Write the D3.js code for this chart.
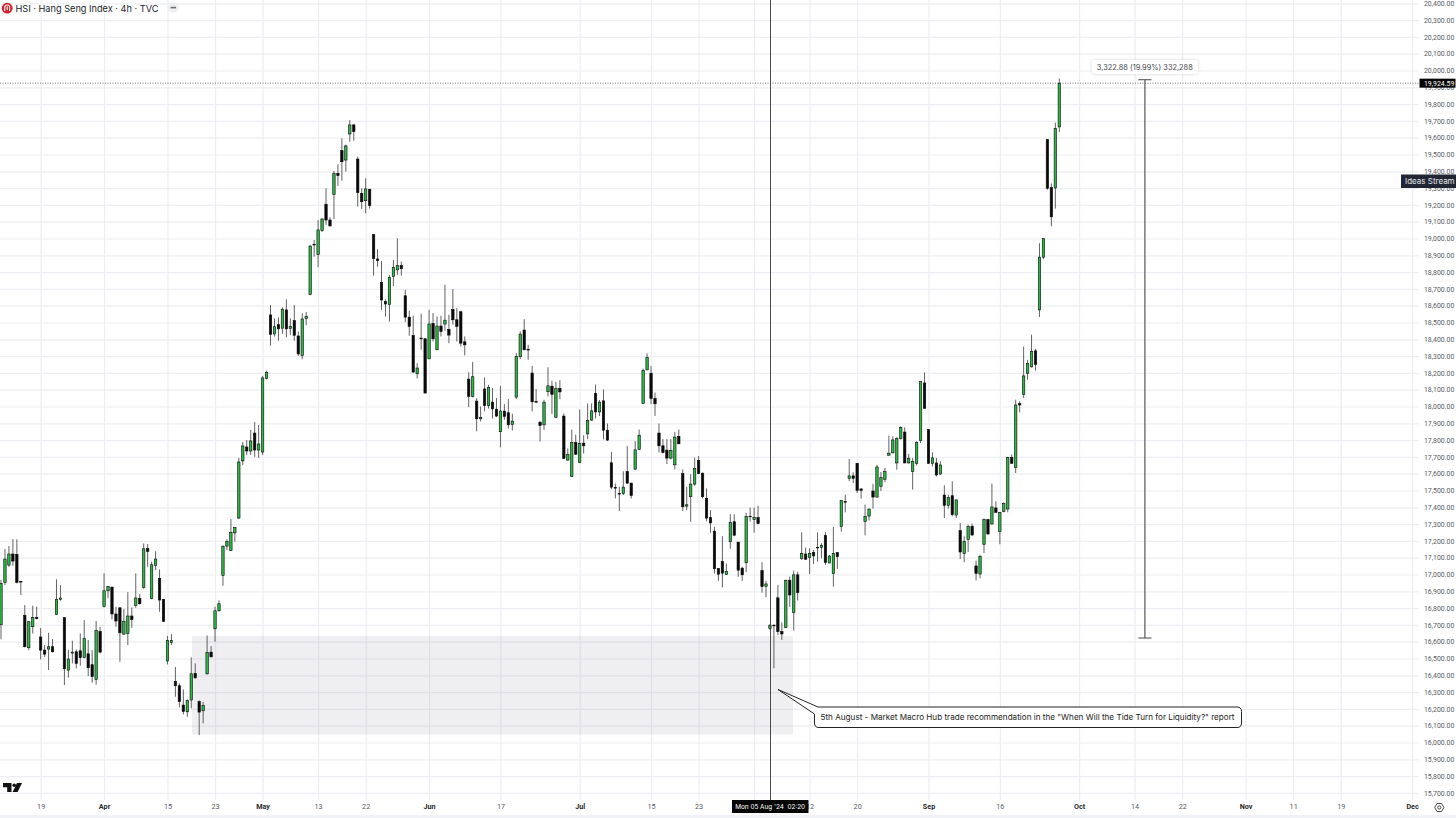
<!DOCTYPE html>
<html>
<head>
<meta charset="utf-8">
<script src="https://cdn.jsdelivr.net/npm/d3@7"></script>
<style>
  html, body { margin: 0; padding: 0; background: #fff; overflow: hidden; }
  svg { display: block; font-family: Inter, "Noto Sans", sans-serif; }
</style>
</head>
<body>
<svg id="chart" width="1456" height="818"></svg>
<script>
// 4h candles, oldest first
const opens = [
  16701,16953,17056,17122,17120,16959,16757,16564,16689,16745,
  16628,16550,16556,16570,16761,16852,16743,16431,16532,16540,
  16546,16505,16528,16463,16376,16661,16810,16903,16925,16765,
  16802,16645,16649,16753,16816,16858,16923,17155,16856,17054,
  16977,16852,16485,16596,16364,16338,16223,16183,16253,16411,
  16243,16189,16409,16538,16677,16784,16995,17169,17143,17248,
  17336,17676,17759,17735,17842,17741,17729,18168,18545,18432,
  18487,18466,18575,18464,18511,18420,18303,18523,18668,18965,
  18904,19047,19204,19110,19263,19388,19523,19467,19622,19676,
  19473,19269,19225,19293,19023,18878,18739,18624,18606,18773,
  18813,18840,18659,18532,18423,18195,18407,18403,18284,18494,
  18338,18479,18491,18459,18578,18516,18564,18385,18163,18060,
  18032,17927,18104,18006,18026,17984,17850,17973,17963,17893,
  18056,18296,18455,18340,18199,18030,17907,17891,18088,18121,
  17935,18107,17943,17681,17583,17786,17667,17782,17837,17919,
  18078,17968,18034,17859,17665,17518,17482,17482,17613,17544,
  17627,17744,18018,18218,18198,18048,17842,17766,17740,17693,
  17653,17822,17601,17407,17463,17538,17679,17603,17453,17339,
  17258,17036,17078,17000,17195,17314,17193,17038,17070,17347,
  17327,17339,17023,16930,16678,16698,16861,16660,16684,16966,
  16773,16998,17095,17122,17101,17132,17162,17160,17233,17069,
  17005,17130,17285,17434,17571,17587,17662,17509,17315,17348,
  17497,17461,17525,17567,17710,17724,17664,17809,17848,17664,
  17614,17662,17797,18140,17862,17662,17664,17598,17473,17412,
  17469,17354,17261,17124,17208,17287,17051,17003,17180,17327,
  17301,17396,17255,17376,17390,17696,17636,18017,18071,18198,
  18236,18331,18575,18889,19589,19303,19301,19664
];
const highs = [
  16967,17151,17169,17211,17209,16959,16818,16723,16814,16808,
  16681,16580,16653,16616,16971,16937,16745,16550,16606,16554,
  16649,16729,16610,16550,16723,16689,17007,16931,16927,16808,
  16804,16794,16895,16804,17007,16884,17185,17181,17076,17139,
  17030,16854,16634,16645,16449,16352,16316,16257,16507,16471,
  16251,16241,16637,16574,16808,16846,17175,17209,17330,17284,
  17694,17789,17801,17860,17908,17890,18182,18213,18604,18525,
  18531,18590,18638,18525,18604,18446,18555,18563,18961,18991,
  19110,19120,19299,19126,19402,19442,19596,19559,19705,19682,
  19487,19299,19358,19295,19025,18936,18866,18638,18783,18872,
  19001,18862,18695,18570,18540,18258,18552,18407,18576,18556,
  18536,18540,18725,18546,18699,18586,18570,18417,18203,18266,
  18050,18000,18173,18129,18110,18050,18123,18014,18044,17957,
  18318,18447,18520,18368,18242,18104,17911,18040,18233,18153,
  18147,18157,17958,17750,17863,17833,17982,17829,18018,18018,
  18131,18038,18101,17899,17730,17542,17522,17615,17764,17546,
  17794,17863,18226,18316,18240,18083,17899,17806,17806,17806,
  17849,17863,17625,17522,17597,17695,17705,17607,17512,17383,
  17284,17036,17228,17066,17359,17359,17193,17046,17367,17398,
  17398,17408,17073,16962,16706,16704,16938,16714,16968,16988,
  17023,17017,17251,17160,17156,17146,17251,17186,17253,17116,
  17283,17134,17444,17475,17688,17608,17664,17515,17416,17392,
  17539,17652,17610,17634,17827,17823,17817,17882,17876,17718,
  17694,17793,18150,18203,17866,17727,17694,17674,17531,17475,
  17555,17446,17307,17227,17297,17303,17083,17118,17333,17331,
  17541,17436,17372,17430,17700,17714,18041,18031,18357,18278,
  18427,18343,18972,19002,19591,19327,19690,19952
];
const lows = [
  16614,16937,17046,17052,16947,16878,16566,16550,16649,16733,
  16495,16510,16431,16536,16759,16844,16342,16386,16471,16441,
  16457,16501,16395,16356,16344,16530,16804,16858,16733,16689,
  16481,16641,16580,16683,16802,16822,16915,17046,16852,17026,
  16778,16717,16465,16580,16272,16209,16167,16153,16203,16381,
  16044,16114,16405,16506,16600,16780,16933,17145,17139,17195,
  17330,17652,17712,17712,17700,17694,17712,18162,18362,18416,
  18392,18432,18412,18426,18392,18301,18281,18483,18662,18892,
  18829,19039,19081,19071,19116,19313,19344,19398,19576,19582,
  19190,19176,19150,19178,18779,18833,18575,18535,18505,18717,
  18783,18779,18502,18421,18199,18167,18338,18080,18282,18387,
  18334,18417,18451,18377,18487,18387,18357,18304,17996,18054,
  17852,17911,17971,17988,17929,17937,17757,17921,17869,17857,
  18044,18282,18334,18278,17971,18020,17792,17861,18060,17955,
  17931,18044,17687,17677,17582,17712,17663,17720,17806,17915,
  17929,17943,17804,17796,17508,17453,17377,17472,17538,17453,
  17623,17740,18014,18216,18014,17944,17726,17720,17657,17685,
  17625,17776,17377,17383,17314,17528,17597,17453,17317,17248,
  17006,16962,16923,16999,17153,17230,16986,16962,17014,17315,
  17249,17299,16892,16865,16670,16442,16640,16611,16682,16807,
  16666,16845,17087,17087,17003,17063,17077,17097,17057,17067,
  16928,17033,17255,17370,17555,17545,17485,17452,17233,17322,
  17392,17457,17497,17549,17708,17722,17624,17803,17662,17660,
  17505,17648,17783,17989,17658,17644,17584,17594,17336,17392,
  17346,17336,17092,17073,17134,17231,16965,16977,17128,17237,
  17297,17366,17180,17370,17370,17660,17604,17965,18050,18159,
  18232,18214,18533,18877,19291,19073,19178,19634
];
const closes = [
  16947,17092,17122,17080,16953,16955,16570,16719,16745,16737,
  16550,16526,16570,16540,16852,16860,16439,16497,16538,16471,
  16505,16618,16445,16392,16667,16538,16903,16929,16765,16723,
  16653,16721,16753,16731,16860,16826,17153,17137,17058,17092,
  16848,16721,16608,16606,16338,16243,16185,16249,16409,16385,
  16181,16221,16536,16510,16784,16826,17167,17197,17251,17280,
  17670,17765,17735,17795,17741,17777,18170,18204,18430,18475,
  18462,18579,18462,18477,18424,18313,18521,18537,18955,18963,
  19051,19116,19110,19075,19388,19374,19457,19551,19676,19636,
  19273,19219,19295,19196,18880,18868,18634,18610,18769,18827,
  18840,18820,18532,18477,18205,18229,18403,18080,18491,18403,
  18479,18447,18514,18425,18516,18477,18377,18367,18060,18177,
  17927,17935,18006,18112,17986,17943,17973,17941,17891,17913,
  18298,18431,18338,18336,18028,18026,17887,18026,18123,18072,
  18107,18087,17691,17714,17786,17716,17780,17766,17917,17974,
  17968,18026,17859,17800,17520,17514,17480,17520,17544,17470,
  17742,17829,18214,18292,18048,18016,17766,17726,17693,17738,
  17818,17778,17403,17415,17538,17631,17601,17463,17336,17307,
  17034,17002,17008,17019,17310,17234,17026,16998,17345,17345,
  17339,17303,16928,16944,16698,16696,16660,16646,16966,16878,
  16998,16892,17126,17091,17126,17111,17160,17174,17071,17110,
  17126,17106,17440,17432,17587,17573,17501,17501,17346,17390,
  17461,17640,17577,17612,17722,17801,17809,17876,17664,17692,
  17674,17787,18148,17989,17662,17694,17592,17652,17412,17459,
  17356,17444,17134,17197,17285,17235,17007,17108,17327,17241,
  17402,17370,17370,17422,17696,17662,18009,18009,18182,18256,
  18329,18250,18889,19000,19299,19129,19654,19924.59
];

const priceTicks = d3.range(15700, 20401, 100);

// time axis sits on candle numbers, the last few run past the data
// the Aug tick is hidden by the crosshair date, only its gridline shows
const timeTicks  = [10,26,42,54,66,80,92,108,126,146,164,176,190,204,216,234,252,272,286,298,314,326,338,356];
const timeLabels = ['19','Apr','15','23','May','13','22','Jun','17','Jul','15','23','','12','20','Sep','16','Oct','14','22','Nov','11','19','Dec'];
const monthNames = ['Apr','May','Jun','Jul','Sep','Oct','Nov','Dec'];

const lastPrice  = 19924.59;
const zoneTop    = 16634;
const zoneBottom = 16047;
const zoneFrom   = 48.2;
const zoneTo     = 199.8;
const crossAt    = 194.15;
const crossLabel = "Mon 05 Aug '24  02:20";
const rangeAt    = 288.6;
const rangeTop   = 19945;
const rangeBase  = 16622;
const rangeLabel = '3,322.88 (19.99%) 332,288';
const noteText   = '5th August - Market Macro Hub trade recommendation in the "When Will the Tide Turn for Liquidity?" report';
const titleText  = 'HSI · Hang Seng Index · 4h · TVC';


(function() {
  const svg = d3.select('#chart');

  const x = d3.scaleLinear().domain([0, 267]).range([1, 1059.3]);
  const y = d3.scaleLinear().domain([15700, 20400]).range([792.9, 3.3]);

  const labelFor = d => timeLabels[timeTicks.indexOf(d)];

  // gridlines come from the axis ticks
  const yAxisG = svg.append('g')
    .attr('transform', 'translate(1419,0)')
    .call(d3.axisRight(y)
      .tickValues(priceTicks)
      .tickFormat(d3.format(',.2f'))
      .tickSize(-1419)
      .tickPadding(5));
  yAxisG.select('.domain').remove();
  yAxisG.selectAll('.tick line').attr('stroke', '#eceef1').attr('stroke-width', 1.2);
  yAxisG.selectAll('.tick text')
    .attr('fill', '#555a64')
    .style('font-size', '6.9px')
    .style('font-family', 'Roboto, sans-serif');

  const xAxisG = svg.append('g')
    .attr('transform', 'translate(0,800)')
    .call(d3.axisBottom(x)
      .tickValues(timeTicks)
      .tickFormat(labelFor)
      .tickSize(-800)
      .tickPadding(4));
  xAxisG.select('.domain').remove();
  xAxisG.selectAll('.tick line').attr('stroke', '#eceef1').attr('stroke-width', 1.2);
  xAxisG.selectAll('.tick text')
    .attr('fill', d => monthNames.includes(labelFor(d)) ? '#26282c' : '#555a64')
    .style('font-weight', d => monthNames.includes(labelFor(d)) ? 700 : 400)
    .style('font-size', '7.2px')
    .style('font-family', 'Roboto, sans-serif');

  // shaded zone
  svg.append('rect')
    .attr('x', x(zoneFrom))
    .attr('y', y(zoneTop))
    .attr('width', x(zoneTo) - x(zoneFrom))
    .attr('height', y(zoneBottom) - y(zoneTop))
    .attr('fill', 'rgba(120,123,140,0.12)');

  // last price line
  svg.append('line')
    .attr('x1', 0).attr('x2', 1419)
    .attr('y1', y(lastPrice)).attr('y2', y(lastPrice))
    .attr('stroke', '#555')
    .attr('stroke-width', 0.8)
    .attr('stroke-dasharray', '1,1.5');

  // candles
  const candles = d3.range(opens.length);
  const candle = svg.append('g').selectAll('g').data(candles).enter().append('g');

  candle.append('line')
    .attr('x1', x).attr('x2', x)
    .attr('y1', i => y(highs[i]))
    .attr('y2', i => y(lows[i]))
    .attr('stroke', '#3c3c3c')
    .attr('stroke-opacity', 0.8)
    .attr('stroke-width', 1);

  candle.append('rect')
    .attr('x', i => x(i) - 1.2)
    .attr('width', 2.4)
    .attr('y', i => y(Math.max(opens[i], closes[i])))
    .attr('height', i => Math.max(0.6, Math.abs(y(opens[i]) - y(closes[i]))))
    .attr('fill', i => closes[i] >= opens[i] ? '#2bb845' : '#0a0a0a')
    .attr('stroke', '#0a0a0a')
    .attr('stroke-width', 0.6);

  drawCrosshair(svg, x, y);
  drawRange(svg, x, y);
  drawNote(svg);
  drawPriceTags(svg, y);
  drawHeader(svg);
  drawCorners(svg);
}());


function drawCrosshair(svg, x) {
  svg.append('line')
    .attr('x1', x(crossAt)).attr('x2', x(crossAt))
    .attr('y1', 0).attr('y2', 801)
    .attr('stroke', '#4a4a4a')
    .attr('stroke-width', 1)
    .attr('shape-rendering', 'crispEdges');

  svg.append('rect')
    .attr('x', 732).attr('y', 800)
    .attr('width', 76.5).attr('height', 13)
    .attr('fill', '#050505');

  svg.append('text')
    .attr('x', 770.2).attr('y', 809.2)
    .attr('text-anchor', 'middle')
    .attr('fill', '#fff')
    .style('font-size', '6.4px')
    .style('white-space', 'pre')
    .text(crossLabel);
}


function drawRange(svg, x, y) {
  const cx = x(rangeAt);

  svg.append('line')
    .attr('x1', cx).attr('x2', cx)
    .attr('y1', y(rangeTop)).attr('y2', y(rangeBase))
    .attr('stroke', '#555')
    .attr('stroke-width', 1.2);

  [rangeTop, rangeBase].forEach(p => {
    svg.append('line')
      .attr('x1', cx - 6.5).attr('x2', cx + 6.5)
      .attr('y1', y(p)).attr('y2', y(p))
      .attr('stroke', '#444')
      .attr('stroke-width', 1);
  });

  svg.append('rect')
    .attr('x', 1091.5).attr('y', 60)
    .attr('width', 106.5).attr('height', 14)
    .attr('rx', 3)
    .attr('fill', '#fff')
    .style('filter', 'drop-shadow(0 0.5px 1.5px rgba(0,0,0,0.18))');

  svg.append('text')
    .attr('x', 1144.8).attr('y', 69.8)
    .attr('text-anchor', 'middle')
    .attr('fill', '#44474d')
    .style('font-size', '7.4px')
    .text(rangeLabel);
}


function drawNote(svg) {
  // rounded box with a pointer running up to the wick
  svg.append('path')
    .attr('d', 'M818,707 L778,689.5 L814.5,714 L814.5,723 Q814.5,727.5 819,727.5 L1237,727.5 Q1241.5,727.5 1241.5,723 L1241.5,711.5 Q1241.5,707 1237,707 Z')
    .attr('fill', '#fff')
    .attr('stroke', '#222')
    .attr('stroke-width', 1);

  svg.append('text')
    .attr('x', 820.5).attr('y', 719.6)
    .attr('fill', '#1c1d20')
    .style('font-size', '8.13px')
    .text(noteText);
}


function drawPriceTags(svg, y) {
  svg.append('rect')
    .attr('x', 1419.5).attr('y', y(lastPrice) - 4.5)
    .attr('width', 36).attr('height', 9)
    .attr('fill', '#050505');

  svg.append('text')
    .attr('x', 1424).attr('y', y(lastPrice) + 2.5)
    .attr('fill', '#fff')
    .style('font-size', '6.9px')
    .style('font-family', 'Roboto, sans-serif')
    .text(d3.format(',.2f')(lastPrice));

  svg.append('rect')
    .attr('x', 1401).attr('y', 174.5)
    .attr('width', 55).attr('height', 13.5)
    .attr('fill', '#212534');

  svg.append('text')
    .attr('x', 1405).attr('y', 184.3)
    .attr('fill', '#e6e8ee')
    .style('font-size', '8px')
    .text('Ideas Stream');
}


function drawHeader(svg) {
  svg.append('circle')
    .attr('cx', 7.2).attr('cy', 8.2).attr('r', 5.4)
    .attr('fill', '#dc1f26');
  svg.append('path')
    .attr('d', 'M4.8,11 V7 Q4.8,5 7.2,5 Q9.6,5 9.6,7 V11 M7.2,6.5 V10')
    .attr('fill', 'none')
    .attr('stroke', '#fff')
    .attr('stroke-width', 1.1);

  svg.append('text')
    .attr('x', 15.5).attr('y', 11.5)
    .attr('fill', '#222428')
    .style('font-size', '9.2px')
    .text(titleText);

  svg.append('circle')
    .attr('cx', 173.3).attr('cy', 7.6).attr('r', 5.4)
    .attr('fill', '#eeeff1');
  svg.append('rect')
    .attr('x', 170.6).attr('y', 6.8)
    .attr('width', 5.4).attr('height', 1.6)
    .attr('fill', '#6a6d73');
}


function drawCorners(svg) {
  // TradingView mark
  svg.append('path')
    .attr('d', 'M3,783 H11.5 V792 H7.2 V787.3 H3 Z M17,783 H22 L17.6,792 H12.6 Z')
    .attr('fill', '#111');
  svg.append('circle')
    .attr('cx', 14.2).attr('cy', 785.2).attr('r', 1.8)
    .attr('fill', '#111');

  svg.append('rect')
    .attr('x', 0).attr('y', 815)
    .attr('width', 1456).attr('height', 3)
    .attr('fill', '#f0f2f7');

  // settings hexagon
  const hex = d3.range(6).map(k => {
    const a = Math.PI / 3 * k;
    return [1439.3 + 4.6 * Math.cos(a), 807.5 + 4.6 * Math.sin(a)];
  });
  svg.append('path')
    .attr('d', d3.line()(hex) + 'Z')
    .attr('fill', 'none')
    .attr('stroke', '#333')
    .attr('stroke-width', 0.9);
  svg.append('circle')
    .attr('cx', 1439.3).attr('cy', 807.5).attr('r', 1.6)
    .attr('fill', 'none')
    .attr('stroke', '#333')
    .attr('stroke-width', 0.9);
}
</script>
</body>
</html>
